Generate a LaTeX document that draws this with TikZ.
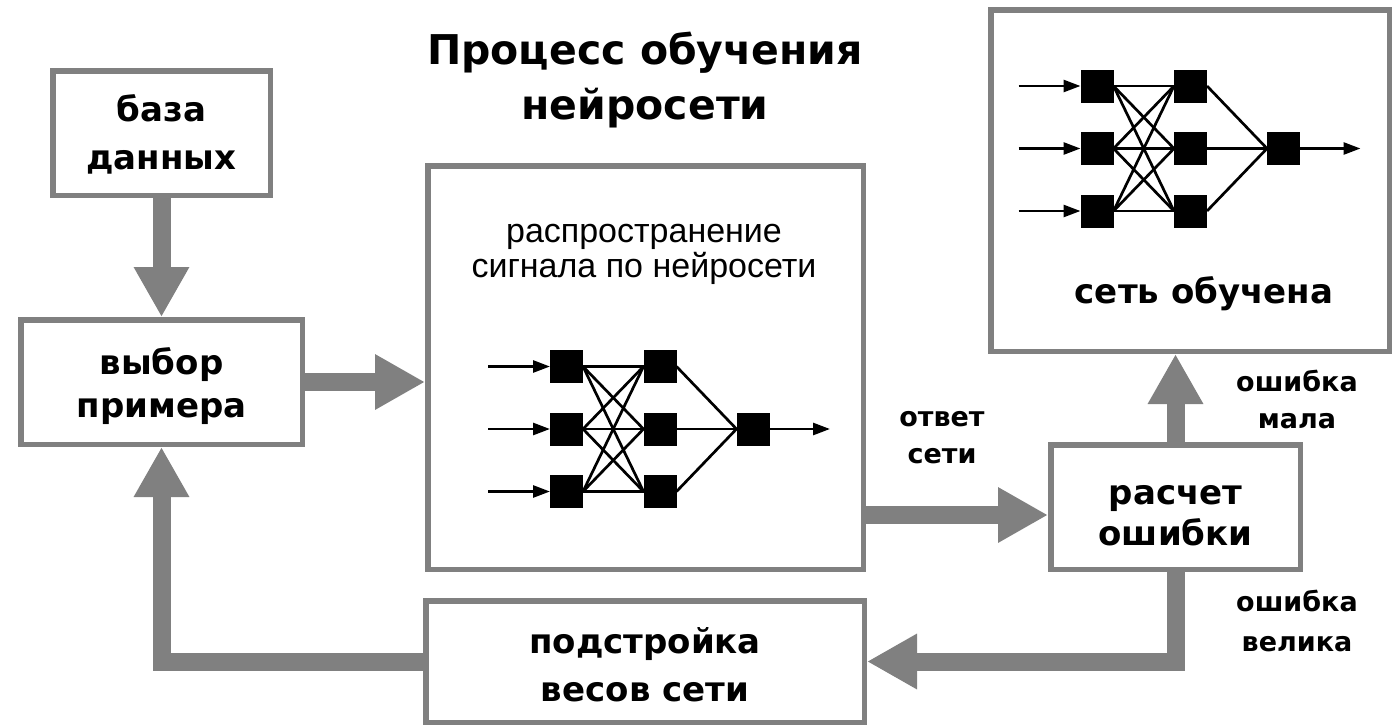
\documentclass[tikz,border=0pt]{standalone}
\usepackage{fontspec}
\usetikzlibrary{arrows.meta}
\newfontfamily\labelfont{DejaVu Sans}
\newfontfamily\signalfont{Liberation Sans}
\definecolor{framegray}{RGB}{128,128,128}

\tikzset{
  frame/.style={draw=framegray, line width=5.5pt, fill=white, inner sep=0pt},
  neuron/.style={fill=black, minimum size=33pt, inner sep=0pt, outer sep=0pt},
  wire/.style={line width=2.7pt},
  feed/.style={line width=2.7pt, -{Triangle[length=17pt,width=12pt]}},
  flow/.style={draw=framegray, line width=18pt, line join=miter,
    -{Triangle[length=50pt,width=52pt]}},
  lbl/.style={font=\labelfont\bfseries\fontsize{34}{43}\selectfont, align=center},
  tag/.style={font=\labelfont\bfseries\fontsize{27}{37}\selectfont, align=center},
  % a small three-layer network: 3 inputs, 3 hidden, 1 output
  nnet/.pic={
    \foreach \r/\y in {1/0,2/62.5,3/125} {
      \node[neuron] (-a\r) at (0,\y) {};
      \node[neuron] (-b\r) at (93.5,\y) {};
    }
    \node[neuron] (-c) at (186.5,62.5) {};
    \foreach \i in {1,2,3} {
      \foreach \j in {1,2,3} {
        \draw[wire] (-a\i.east) -- (-b\j.west);
      }
      \draw[wire] (-b\i.east) -- (-c.west);
      \draw[feed] ([xshift=-62pt]-a\i.west) -- (-a\i.west);
    }
    \draw[feed] (-c.east) -- ([xshift=60.5pt]-c.east);
  }
}

\begin{document}
\begin{tikzpicture}[x=1pt,y=-1pt]
\useasboundingbox (0,0) rectangle (1400,726);
\fill[white] (0,0) rectangle (1400,726);

% title
\node[font=\labelfont\bfseries\fontsize{41}{55}\selectfont, align=center] (title)
  at (645,80) {Процесс обучения\\нейросети};

% block frames
\node[frame, minimum width=217.5pt, minimum height=124.5pt] (db) at (161.5,133) {};
\node[frame, minimum width=281.5pt, minimum height=124.5pt] (select) at (161.5,382) {};
\node[frame, minimum width=435.5pt, minimum height=403.5pt] (net) at (645.5,367.5) {};
\node[frame, minimum width=398.5pt, minimum height=341.5pt] (done) at (1190,180.5) {};
\node[frame, minimum width=249.5pt, minimum height=124.5pt] (calc) at (1175.5,507) {};
\node[frame, minimum width=438.5pt, minimum height=121.5pt] (adjust) at (645,661.5) {};

% block labels
\node[lbl, font=\labelfont\bfseries\fontsize{34}{48}\selectfont] (dbtxt)
  at (161.5,134) {база\\данных};
\node[lbl] (selecttxt) at (161.5,386.5) {выбор\\примера};
\node[lbl, font=\labelfont\bfseries\fontsize{34}{40.5}\selectfont] (calctxt)
  at (1175.5,515.5) {расчет\\ошибки};
\node[lbl, font=\labelfont\bfseries\fontsize{34}{48}\selectfont] (adjusttxt)
  at (645,664.5) {подстройка\\весов сети};

% contents of the propagation block
\node[font=\signalfont\fontsize{34}{35}\selectfont, align=center] (signal)
  at (644,254) {распространение\\сигнала по нейросети};
\pic (fwd) at (566.5,366.5) {nnet};

% contents of the trained block
\pic (trained) at (1097,86) {nnet};
\node[lbl, anchor=base] (donetxt) at (1204,303) {сеть обучена};

% flow arrows
\draw[flow] (db.south) -- (select.north);
\draw[flow] (select.east) -- (select.east -| net.west);
\draw[flow] (net.east |- 0,515) -- (calc.west |- 0,515);
\draw[flow] (calc.north) -- (calc.north |- done.south);
\draw[flow] (calc.south) |- (adjust.east);
\draw[flow] (adjust.west) -| (select.south);

% arrow captions
\node[tag] (answer) at (942,437.5) {ответ\\сети};
\node[tag] (small) at (1297,399) {ошибка\\мала};
\node[tag, font=\labelfont\bfseries\fontsize{27}{40}\selectfont] (large)
  at (1297,621) {ошибка\\велика};
\end{tikzpicture}
\end{document}
